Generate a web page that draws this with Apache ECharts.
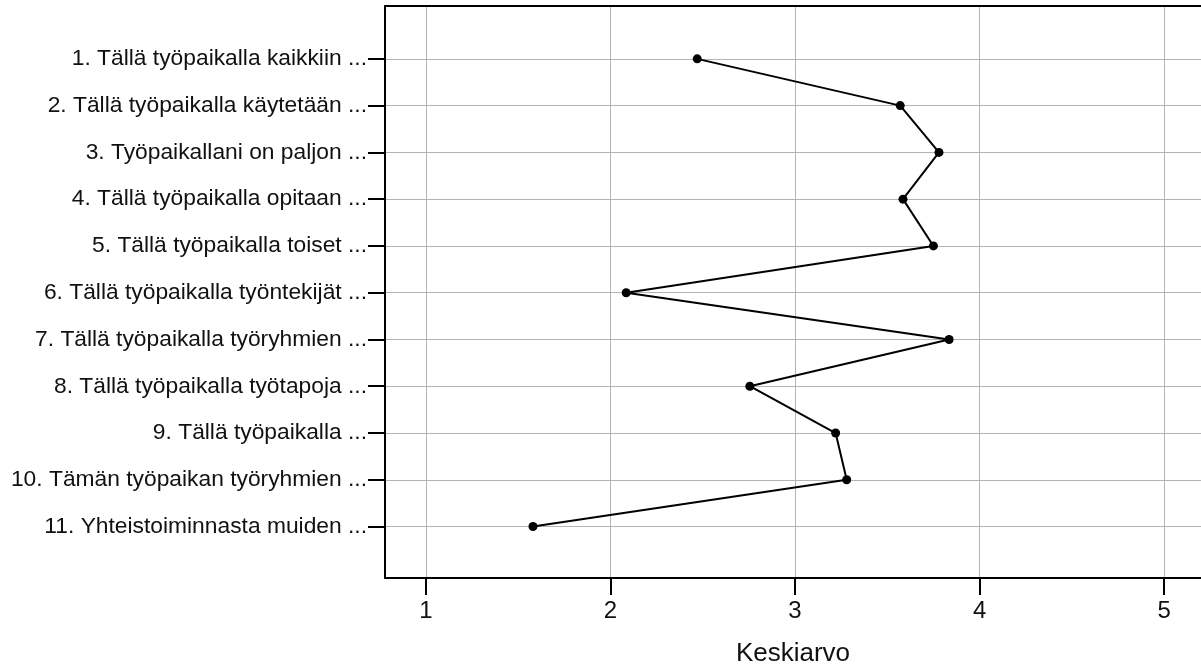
<!DOCTYPE html>
<html>
<head>
<meta charset="utf-8">
<script src="https://cdn.jsdelivr.net/npm/echarts@6/dist/echarts.min.js"></script>
<style>
  html, body { margin: 0; padding: 0; background: #fff; }
  #chart { width: 1201px; height: 668px; }
</style>
</head>
<body>
<div id="chart"></div>
<script>
const categories = [
  "1. Tällä työpaikalla kaikkiin ...",
  "2. Tällä työpaikalla käytetään ...",
  "3. Työpaikallani on paljon ...",
  "4. Tällä työpaikalla opitaan ...",
  "5. Tällä työpaikalla toiset ...",
  "6. Tällä työpaikalla työntekijät ...",
  "7. Tällä työpaikalla työryhmien ...",
  "8. Tällä työpaikalla työtapoja ...",
  "9. Tällä työpaikalla ...",
  "10. Tämän työpaikan työryhmien ...",
  "11. Yhteistoiminnasta muiden ...",
];
const means = [2.47, 3.57, 3.78, 3.585, 3.75, 2.085, 3.835, 2.755, 3.22, 3.28, 1.58];
const xTicks = [1, 2, 3, 4, 5];

const FONT = "'Liberation Sans', Arial, sans-serif";
const rowIdx = categories.map((c, i) => i);

const chart = echarts.init(document.getElementById("chart"));
chart.setOption({
  animation: false,
  grid: { left: 385, right: 0, top: 6, bottom: 90, outerBoundsMode: "none", containLabel: false },
  xAxis: [
    {
      type: "value",
      min: 0.778,
      max: 5.2,
      name: "Keskiarvo",
      nameLocation: "middle",
      nameGap: 63,
      nameTextStyle: { fontFamily: FONT, fontSize: 26, color: "#111" },
      axisLine: { show: true, onZero: false, lineStyle: { color: "#000", width: 2 } },
      axisTick: { show: true, length: 17, customValues: xTicks, lineStyle: { color: "#000", width: 2 } },
      axisLabel: { customValues: xTicks, margin: 21, fontFamily: FONT, fontSize: 24, color: "#111" },
      splitLine: { show: true, lineStyle: { color: "#b4b4b4", width: 1 } },
    },
    {
      type: "value",
      position: "top",
      min: 0.778,
      max: 5.2,
      axisLine: { show: true, onZero: false, lineStyle: { color: "#000", width: 2 } },
      axisTick: { show: false },
      axisLabel: { show: false },
      splitLine: { show: false },
    },
  ],
  yAxis: {
    type: "value",
    inverse: true,
    min: -1.13,
    max: 11.1,
    axisLine: { show: true, onZero: false, lineStyle: { color: "#000", width: 2 } },
    axisTick: { show: true, length: 17, customValues: rowIdx, lineStyle: { color: "#000", width: 2 } },
    axisLabel: {
      customValues: rowIdx,
      margin: 18,
      fontFamily: FONT,
      fontSize: 22.8,
      color: "#111",
      formatter: (v) => categories[Math.round(v)],
    },
    splitLine: { show: true, lineStyle: { color: "#b4b4b4", width: 1 } },
  },
  series: [
    {
      type: "line",
      data: means.map((m, i) => [m, i]),
      symbol: "circle",
      symbolSize: 9,
      itemStyle: { color: "#000" },
      lineStyle: { color: "#000", width: 2 },
    },
  ],
});
</script>
</body>
</html>
